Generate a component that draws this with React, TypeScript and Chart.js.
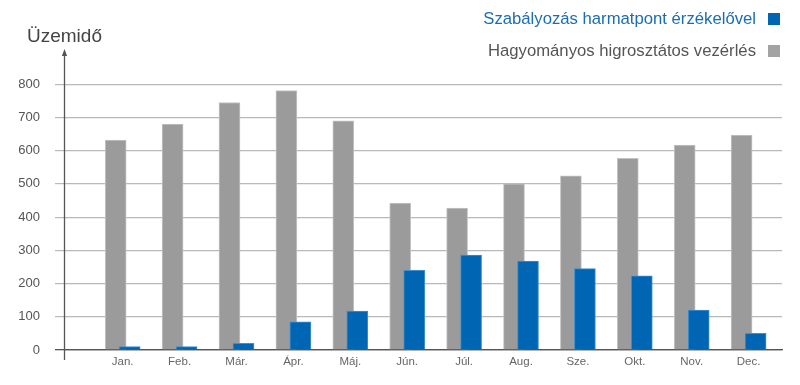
import React, { useEffect, useRef } from "react";
import { Chart, registerables } from "chart.js";

Chart.register(...registerables);

// ---- data ----
const MONTHS = ["Jan.", "Feb.", "Már.", "Ápr.", "Máj.", "Jún.", "Júl.", "Aug.", "Sze.", "Okt.", "Nov.", "Dec."];
const DEWPOINT_CONTROL = [10, 10, 20, 85, 117, 240, 286, 268, 245, 223, 120, 50];
const HYGROSTAT_CONTROL = [632, 680, 745, 781, 690, 442, 427, 500, 524, 577, 617, 647];
const SERIES_NAMES = ["Szabályozás harmatpont érzékelővel", "Hagyományos higrosztátos vezérlés"];
const Y_AXIS_TITLE = "Üzemidő";
const Y_MAX = 900;
const Y_TICK_MAX = 800;
const Y_STEP = 100;

// ---- layout / style constants ----
const BLUE = "#0066b3";
const GREY = "#9b9b9b";
const AXIS_MIN = -1.014;
const AXIS_MAX = 11.587;
const BAR_SHIFT = 0.123;
const FONT = "'Liberation Sans', Arial, sans-serif";

const axisArrow = {
  id: "axisArrow",
  afterDraw(chart: any) {
    const { ctx, chartArea } = chart;
    const x = Math.round(chartArea.left) - 0.5;
    ctx.save();
    ctx.strokeStyle = "#555";
    ctx.lineWidth = 1.3;
    ctx.beginPath();
    ctx.moveTo(x, chartArea.top + 3);
    ctx.lineTo(x, chartArea.bottom + 10);
    ctx.stroke();
    ctx.fillStyle = "#555";
    ctx.beginPath();
    ctx.moveTo(x, chartArea.top - 2);
    ctx.lineTo(x - 2.6, chartArea.top + 5);
    ctx.lineTo(x + 2.6, chartArea.top + 5);
    ctx.closePath();
    ctx.fill();
    ctx.restore();
  },
};

export default function App() {
  const ref = useRef<HTMLCanvasElement | null>(null);

  useEffect(() => {
    document.body.style.margin = "0";
    const canvas = ref.current;
    if (!canvas) return;
    const chart = new Chart(canvas, {
      type: "bar",
      data: {
        datasets: [
          {
            label: SERIES_NAMES[0],
            data: DEWPOINT_CONTROL.map((v, i) => ({ x: i, y: v })),
            backgroundColor: BLUE,
            borderColor: "#3f8fcf",
            borderWidth: 1,
            borderSkipped: "bottom",
            barThickness: 21,
            grouped: false,
            xAxisID: "xb",
            order: 0,
          },
          {
            label: SERIES_NAMES[1],
            data: HYGROSTAT_CONTROL.map((v, i) => ({ x: i, y: v })),
            backgroundColor: GREY,
            borderColor: "#c4c4c4",
            borderWidth: 1,
            borderSkipped: "bottom",
            barThickness: 21,
            grouped: false,
            xAxisID: "xg",
            order: 1,
          },
        ] as any,
      },
      plugins: [axisArrow],
      options: {
        animation: false,
        responsive: false,
        maintainAspectRatio: false,
        layout: { padding: { top: 51, right: 18, left: 0, bottom: 0 } },
        plugins: {
          legend: { display: false },
          tooltip: { enabled: false },
        },
        scales: {
          x: {
            type: "linear",
            axis: "x",
            position: "bottom",
            min: AXIS_MIN,
            max: AXIS_MAX,
            offset: false,
            grid: { display: false, drawTicks: false },
            border: { display: true, color: "#555", width: 1.3 },
            afterBuildTicks: (scale: any) => {
              scale.ticks = MONTHS.map((_, i) => ({ value: i }));
            },
            afterFit: (scale: any) => {
              scale.height = 35;
            },
            ticks: {
              autoSkip: false,
              maxRotation: 0,
              padding: 5,
              color: "#666",
              font: { family: FONT, size: 11.5 },
              callback: (v: any) => MONTHS[v] ?? "",
            },
          } as any,
          xg: {
            type: "linear",
            axis: "x",
            display: false,
            min: AXIS_MIN + BAR_SHIFT,
            max: AXIS_MAX + BAR_SHIFT,
            offset: false,
          } as any,
          xb: {
            type: "linear",
            axis: "x",
            display: false,
            min: AXIS_MIN - BAR_SHIFT,
            max: AXIS_MAX - BAR_SHIFT,
            offset: false,
          } as any,
          y: {
            type: "linear",
            min: 0,
            max: Y_MAX,
            afterBuildTicks: (scale: any) => {
              scale.ticks = scale.ticks.filter((t: any) => t.value <= Y_TICK_MAX);
            },
            afterFit: (scale: any) => {
              scale.width = 65;
            },
            border: { display: false },
            grid: {
              color: (c: any) => (c.tick && c.tick.value === 0 ? "#555" : "#b9b9b9"),
              lineWidth: (c: any) => (c.tick && c.tick.value === 0 ? 1.3 : 1.2),
              tickColor: (c: any) => (c.tick && c.tick.value === 0 ? "#555" : "#b9b9b9"),
              tickLength: 10,
              drawTicks: true,
            },
            ticks: {
              stepSize: Y_STEP,
              padding: 15,
              color: "#555",
              font: { family: FONT, size: 13 },
            },
          },
        },
      } as any,
    });
    return () => chart.destroy();
  }, []);

  const legendRow = (text: string, color: string, textColor: string, top: number) => (
    <div
      style={{
        position: "absolute",
        right: 20,
        top,
        height: 20,
        display: "flex",
        alignItems: "center",
        whiteSpace: "nowrap",
      }}
    >
      <span style={{ color: textColor, fontSize: 16.7, fontFamily: FONT, lineHeight: "20px" }}>{text}</span>
      <span style={{ display: "inline-block", width: 12, height: 12, background: color, marginLeft: 12 }} />
    </div>
  );

  return (
    <div style={{ position: "fixed", left: 0, top: 0, width: 800, height: 385, background: "#fff" }}>
      <canvas ref={ref} width={800} height={385} style={{ position: "absolute", left: 0, top: 0 }} />
      <div
        style={{
          position: "absolute",
          left: 27,
          top: 26,
          fontFamily: FONT,
          fontSize: 19,
          lineHeight: "19px",
          color: "#444",
          whiteSpace: "nowrap",
        }}
      >
        {Y_AXIS_TITLE}
      </div>
      {legendRow(SERIES_NAMES[0], BLUE, "#1a6db5", 9)}
      {legendRow(SERIES_NAMES[1], "#a3a3a3", "#555", 41)}
    </div>
  );
}
